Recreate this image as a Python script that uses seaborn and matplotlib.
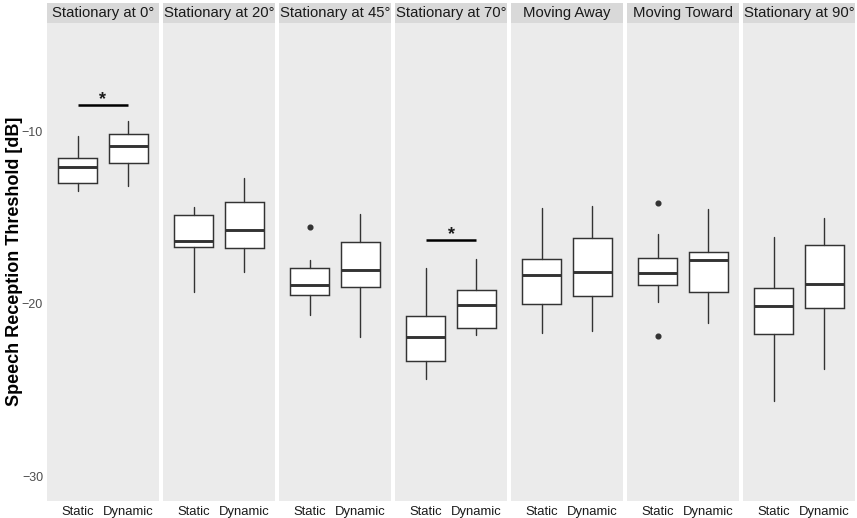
import matplotlib
matplotlib.use("Agg")
import matplotlib.pyplot as plt
from matplotlib.patches import Rectangle
import pandas as pd
import seaborn as sns

panels = ["Stationary at 0°", "Stationary at 20°", "Stationary at 45°",
          "Stationary at 70°", "Moving Away", "Moving Toward", "Stationary at 90°"]
conditions = ["Static", "Dynamic"]

# Box summaries (dB), one value per panel
static_whislo = [-13.48, -19.33, -20.68, -24.39, -21.73, -19.91, -25.67]
static_q1     = [-13.03, -16.72, -19.49, -23.35, -20.01, -18.93, -21.77]
static_med    = [-12.07, -16.39, -18.93, -21.94, -18.35, -18.25, -20.13]
static_q3     = [-11.57, -14.87, -17.94, -20.72, -17.42, -17.36, -19.08]
static_whishi = [-10.29, -14.39, -17.48, -17.96, -14.48, -15.99, -16.13]
static_fliers = [[], [], [-15.55], [], [], [-14.19, -21.87], []]

dynamic_whislo = [-13.19, -18.17, -21.96, -21.81, -21.59, -21.15, -23.81]
dynamic_q1     = [-11.86, -16.76, -19.06, -21.44, -19.55, -19.32, -20.28]
dynamic_med    = [-10.87, -15.74, -18.04, -20.09, -18.16, -17.46, -18.89]
dynamic_q3     = [-10.17, -14.10, -16.45, -19.22, -16.19, -17.03, -16.61]
dynamic_whishi = [-9.44, -12.74, -14.81, -17.44, -14.33, -14.50, -15.04]
dynamic_fliers = [[], [], [], [], [], [], []]

# Significance brackets: panel -> bar height (dB)
sig_panels = ["Stationary at 0°", "Stationary at 70°"]
sig_levels = [-8.49, -16.34]

y_ticks = [-30, -20, -10]

rows = []
for i, p in enumerate(panels):
    rows.append(dict(panel=p, condition="Static", whislo=static_whislo[i],
                     q1=static_q1[i], med=static_med[i], q3=static_q3[i],
                     whishi=static_whishi[i], fliers=static_fliers[i]))
    rows.append(dict(panel=p, condition="Dynamic", whislo=dynamic_whislo[i],
                     q1=dynamic_q1[i], med=dynamic_med[i], q3=dynamic_q3[i],
                     whishi=dynamic_whishi[i], fliers=dynamic_fliers[i]))
df = pd.DataFrame(rows)

sns.set_theme(style="white", rc={
    "axes.facecolor": "#EBEBEB",
    "axes.grid": False,
    "axes.spines.left": False, "axes.spines.right": False,
    "axes.spines.top": False, "axes.spines.bottom": False,
    "figure.facecolor": "white",
})
plt.rcParams["font.family"] = ["Liberation Sans", "DejaVu Sans"]

LINE = "#333333"


def draw_boxes(data, **kws):
    ax = plt.gca()
    stats = []
    for cond in conditions:
        r = data[data["condition"] == cond].iloc[0]
        stats.append(dict(label=cond, whislo=r["whislo"], q1=r["q1"], med=r["med"],
                          q3=r["q3"], whishi=r["whishi"], fliers=list(r["fliers"])))
    ax.bxp(stats, positions=[1, 2], widths=0.75, patch_artist=True,
           showcaps=False,
           boxprops=dict(facecolor="white", edgecolor=LINE, linewidth=1.05),
           medianprops=dict(color=LINE, linewidth=2.1, solid_capstyle="butt"),
           whiskerprops=dict(color=LINE, linewidth=1.0),
           flierprops=dict(marker="o", markersize=3.4, markerfacecolor=LINE,
                           markeredgecolor=LINE, linestyle="none"))
    panel = data["panel"].iloc[0]
    if panel in sig_panels:
        y = sig_levels[sig_panels.index(panel)]
        ax.plot([1, 2], [y, y], color="black", linewidth=1.8, solid_capstyle="butt")
        ax.text(1.5, y + 0.05, "*", ha="center", va="baseline", fontsize=13,
                fontweight="bold", color="#1A1A1A")


g = sns.FacetGrid(df, col="panel", col_order=panels, sharey=True, sharex=False,
                  despine=False, height=5, aspect=0.25)
g.map_dataframe(draw_boxes)

fig = g.figure
fig.set_size_inches(8.57, 5.18)
fig.subplots_adjust(left=47 / 857, right=855 / 857, bottom=1 - 500.7 / 518,
                    top=1 - 22.7 / 518, wspace=0.036)
g.set_titles("")

strip_h = 20 / 478
for ax, name in zip(g.axes.flat, panels):
    ax.set_xlim(0.4, 2.6)
    ax.set_ylim(-31.43, -3.72)
    ax.set_xticks([1, 2])
    ax.set_xticklabels(conditions)
    ax.set_xlabel("")
    ax.set_ylabel("")
    ax.tick_params(axis="x", length=2.4, width=0.7, color=LINE, pad=1.2,
                   labelsize=9.4, labelcolor="#1A1A1A")
    ax.tick_params(axis="y", length=2.4, width=0.7, color=LINE, pad=0.4,
                   labelsize=9.0, labelcolor="#4D4D4D")
    ax.add_patch(Rectangle((0, 1), 1, strip_h, transform=ax.transAxes,
                           facecolor="#D9D9D9", edgecolor="none", clip_on=False))
    ax.text(0.5, 1 + strip_h / 2, name, transform=ax.transAxes, ha="center",
            va="center", fontsize=10.7, color="#1A1A1A")

first = g.axes.flat[0]
first.set_yticks(y_ticks)
first.set_ylabel("Speech Reception Threshold [dB]", fontsize=13.0,
                 fontweight="bold", color="black")
first.yaxis.set_label_coords(-0.218, 0.5)

fig.savefig("out.png", dpi=100)
